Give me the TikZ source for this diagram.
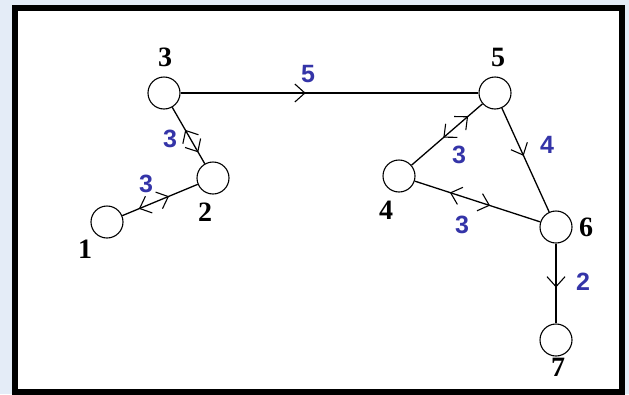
\documentclass[tikz,border=0pt]{standalone}
\usepackage{fontspec}
\setmainfont{Liberation Serif}
\setsansfont{Liberation Sans}
\usetikzlibrary{arrows.meta,decorations.markings}
\definecolor{paleblue}{RGB}{228,236,247}
\definecolor{labelblue}{RGB}{52,52,168}

\tikzset{
  vertex/.style={circle,draw,line width=1.1pt,minimum size=32pt,inner sep=0pt},
  vlabel/.style={font=\bfseries\fontsize{28}{28}\selectfont},
  wlabel/.style={font=\sffamily\bfseries\fontsize{25}{25}\selectfont,text=labelblue},
  edge/.style={line width=1.3pt},
  fwd/.style={postaction={decorate,decoration={markings,
      mark=at position #1 with {\arrow{Straight Barb[length=10pt,width=18pt,line width=1.1pt]}}}}},
  bwd/.style={postaction={decorate,decoration={markings,
      mark=at position #1 with {\arrowreversed{Straight Barb[length=10pt,width=18pt,line width=1.1pt]}}}}}
}

\begin{document}
\begin{tikzpicture}[x=1pt,y=-1pt]
        \useasboundingbox (0,0) rectangle (629,394);
        \fill[paleblue] (0,0) rectangle (629,394);
        \filldraw[fill=white,line width=6pt] (15,8) rectangle (621.5,391.5);
        % vertices
        \node[vertex] (n1) at (107,222) {};
        \node[vertex] (n2) at (213,178) {};
        \node[vertex] (n3) at (164,93) {};
        \node[vertex] (n4) at (399,176) {};
        \node[vertex] (n5) at (495,93) {};
        \node[vertex] (n6) at (556,227) {};
        \node[vertex] (n7) at (556,340) {};
        % vertex numbers
        \node[vlabel] (l1) at (85,249) {1};
        \node[vlabel] (l2) at (205,212) {2};
        \node[vlabel] (l3) at (165,57) {3};
        \node[vlabel] (l4) at (386,210) {4};
        \node[vlabel] (l5) at (498,57) {5};
        \node[vlabel] (l6) at (586,227) {6};
        \node[vlabel] (l7) at (558,367) {7};
        % edges
        \draw[edge,fwd=0.42] (n3) -- (n5);
        \draw[edge,bwd=0.4,fwd=0.8] (n3) -- (n2);
        \draw[edge,bwd=0.22,fwd=0.62] (n1) -- (n2);
        \draw[edge,bwd=0.45,fwd=0.8] (n4) -- (n5);
        \draw[edge,bwd=0.28,fwd=0.6] (n4) -- (n6);
        \draw[edge,fwd=0.46] (n5) -- (n6);
        \draw[edge,fwd=0.55] (n6) -- (n7);
        % weights
        \node[wlabel] (w35) at (308,74) {5};
        \node[wlabel] (w32) at (170,139) {3};
        \node[wlabel] (w12) at (146,184) {3};
        \node[wlabel] (w45) at (459,155) {3};
        \node[wlabel] (w46) at (462,225) {3};
        \node[wlabel] (w56) at (547,145) {4};
        \node[wlabel] (w67) at (583,282) {2};
      \end{tikzpicture}
\end{document}
